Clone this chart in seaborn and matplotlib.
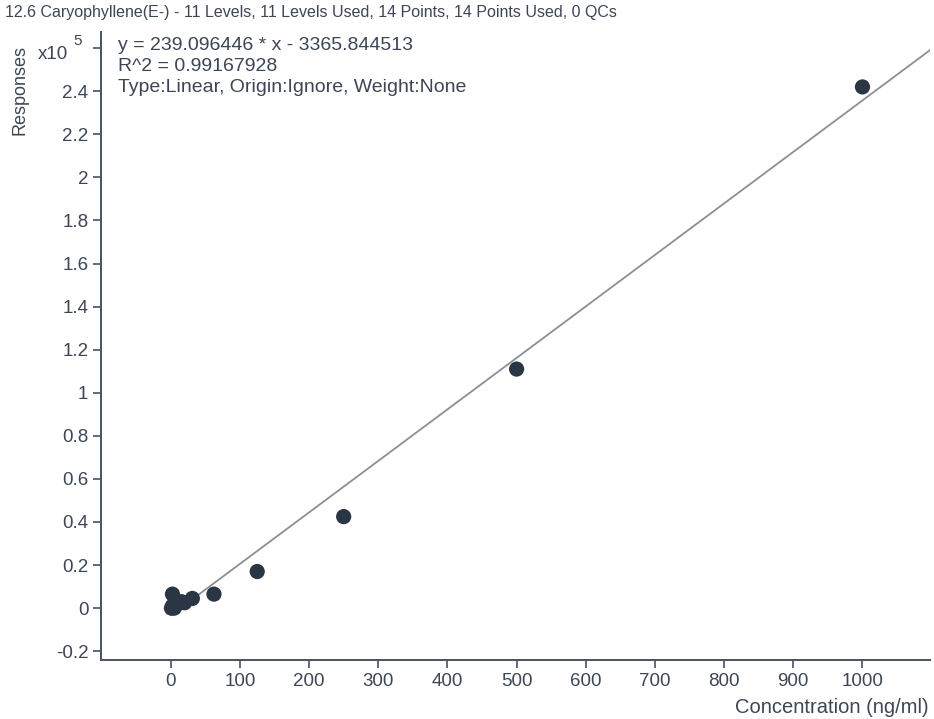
import numpy as np
import pandas as pd
import matplotlib
matplotlib.use("Agg")
import matplotlib.pyplot as plt
import seaborn as sns
from matplotlib.ticker import FuncFormatter, MultipleLocator
from matplotlib.transforms import blended_transform_factory

# calibration points (concentration in ng/ml, response in units of 1e5)
conc = [1, 2.5, 2.5, 5, 7.8, 10, 15.6, 20, 31.25, 62.5, 125, 250, 500, 1000]
resp = [0.0, 0.065, 0.01, 0.0, 0.02, 0.02, 0.03, 0.025, 0.045, 0.065, 0.17, 0.425, 1.11, 2.42]

slope = 239.096446
intercept = -3365.844513

title = "12.6 Caryophyllene(E-) - 11 Levels, 11 Levels Used, 14 Points, 14 Points Used, 0 QCs"
eq_lines = [
    "y = 239.096446 * x - 3365.844513",
    "R^2 = 0.99167928",
    "Type:Linear, Origin:Ignore, Weight:None",
]

text_col = "#3c4654"
sns.set_style("white")
plt.rcParams["font.family"] = ["Liberation Sans", "DejaVu Sans"]

fig = plt.figure(figsize=(9.34, 7.19), dpi=100)
ax = fig.add_axes([0.108, 0.082, 0.888, 0.8735])

df = pd.DataFrame({"conc": conc, "resp": resp})
xmin, xmax = -101, 1098
xs = np.array([0, xmax])
ax.plot(xs, (slope * xs + intercept) / 1e5, color="#8a8f96", lw=1.3, zorder=2)
sns.scatterplot(data=df, x="conc", y="resp", ax=ax, s=120, color="#2b3644",
                edgecolor="none", zorder=3, legend=False)

ax.set_xlim(xmin, xmax)
ax.set_xticks(range(0, 1001, 100))
ax.yaxis.set_major_locator(MultipleLocator(0.2))
ax.yaxis.set_major_formatter(
    FuncFormatter(lambda v, p: "" if round(v, 1) >= 2.6 else f"{round(v, 1):g}"))
ax.set_ylim(-0.241, 2.675)

for side in ["top", "right"]:
    ax.spines[side].set_visible(False)
for side in ["left", "bottom"]:
    ax.spines[side].set_color("#4a5360")
    ax.spines[side].set_linewidth(1.4)
ax.tick_params(axis="both", direction="out", length=6, width=1.2, color="#4a5360",
               labelsize=13.5, labelcolor=text_col, left=True, bottom=True, pad=3)
ax.set_xlabel("")
ax.set_ylabel("")

# exponent marker placed at the 2.6 tick
trans = blended_transform_factory(fig.transFigure, ax.transData)
ax.text(0.073, 2.57, "x10", transform=trans, fontsize=13.5, color=text_col,
        va="center", ha="right")
ax.text(0.078, 2.635, "5", transform=trans, fontsize=11, color=text_col,
        va="center", ha="left")

fig.text(0.005, 0.982, title, fontsize=11.5, color=text_col, va="center", ha="left")
fig.text(0.021, 0.875, "Responses", fontsize=13, color=text_col, rotation=90,
         va="center", ha="center")
fig.text(0.994, 0.016, "Concentration (ng/ml)", fontsize=14.5, color=text_col,
         va="center", ha="right")

for i, line in enumerate(eq_lines):
    fig.text(0.126, 1 - (45 + i * 21.5) / 719, line, fontsize=14,
             color=text_col, va="center", ha="left")

fig.savefig("out.png", dpi=100)
